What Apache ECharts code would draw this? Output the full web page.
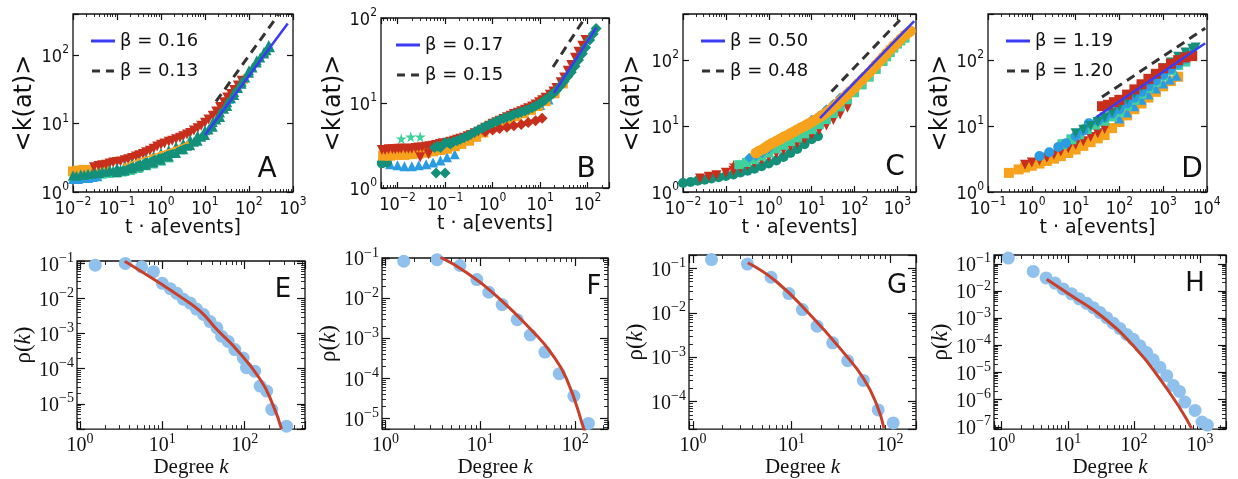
<!DOCTYPE html>
<html><head><meta charset="utf-8">
<script src="https://cdn.jsdelivr.net/npm/echarts@6/dist/echarts.min.js"></script>
<style>html,body{margin:0;padding:0;background:#fff}#c{width:1238px;height:479px}</style>
</head><body><div id="c"></div><script>
// ================= DATA =================
// Panel A
const A_range_x = [0.01, 1000], A_range_y = [1, 398];
const A_mint = [[0.01,1.7],[0.015,1.72],[0.02,1.75],[0.03,1.8],[0.045,1.85],[0.065,1.9],[0.09,1.95],[0.13,2.0],[0.2,2.1],[0.3,2.25],[0.45,2.45],[0.65,2.6],[1,2.85],[1.5,3.2]];
const A_blue = [[0.01,1.55],[0.013,1.55],[0.017,1.6],[0.022,1.6],[0.028,1.65],[0.036,1.7],[1,3.6],[25,17],[35,23]];
const A_orange_sq = [[0.01,2.0],[0.013,2.05],[0.017,2.1],[0.022,2.1]];
const A_orange_tri = [[0.03,2.15],[0.04,2.2],[0.05,2.25],[0.065,2.25],[28,20],[40,26],[55,34],[75,45]];
const A_orange_line = [[0.15,2.5],[0.3,2.95],[0.6,3.4],[1,3.8],[2,4.4],[4,5.3]];
const A_teal_lo = [[0.1,1.95],[0.15,2.05],[0.22,2.2],[0.32,2.35],[0.46,2.5],[0.68,2.7],[1,2.95],[1.5,3.3],[2.2,3.7],[3.2,4.2],[4.6,4.8],[6.8,5.6],[10,6.8],[15,9],[22,12.5],[32,18],[46,26],[68,38],[100,55],[150,78],[220,105],[300,130]];
const A_red = [[0.03,2.3],[0.038,2.4],[0.046,2.45],[0.056,2.5],[0.068,2.6],[0.082,2.7],[0.1,2.75],[0.12,2.8],[0.15,2.9],[0.18,3.0],[0.22,3.15],[0.27,3.3],[0.32,3.45],[0.39,3.6],[0.46,3.8],[0.56,4.0],[0.68,4.3],[0.82,4.6],[1,4.9],[1.2,5.1],[1.5,5.4],[1.8,5.6],[2.2,5.9],[2.7,6.2],[3.2,6.5],[3.9,6.9],[4.6,7.3],[5.6,7.9],[6.8,8.5],[8.2,9.3],[10,10.3],[12,11.5],[15,13],[18,15],[22,17.5],[27,20.5],[32,24],[39,27],[46,31],[56,36],[68,42]];
const A_teal_mid = [[0.012,1.72],[0.018,1.78],[0.027,1.84],[0.039,1.9],[0.056,1.98],[0.082,2.05],[0.12,2.12],[0.18,2.25],[0.27,2.42],[0.39,2.6],[0.56,2.8],[0.82,3.05],[1.2,3.35],[1.8,3.75],[2.7,4.2],[3.9,4.75],[5.6,5.4],[8.2,6.4],[12,8.2],[18,11.5],[27,16.5],[39,23.5],[56,33],[82,47],[120,66],[180,92],[250,118]];
const A_teal_hi = [[0.01,1.75],[0.015,1.8],[0.022,1.85],[0.032,1.9],[0.046,2.0],[0.068,2.1],[0.1,2.25],[0.15,2.4],[0.22,2.6],[0.32,2.8],[0.46,3.05],[0.68,3.35],[1,3.7],[1.5,4.1],[2.2,4.6],[3.2,5.1],[4.6,5.8],[6.8,6.7],[10,8.0],[15,10.5],[22,14.5],[32,20.5],[46,29],[68,41],[100,60],[150,84],[220,112],[280,140]];
const A_fit = [[10,6.8],[760,290]];
const A_ref = [[17.8,21],[480,400]];
const A_names = ['β = 0.16','β = 0.13'];

// Panel B
const B_range_x = [0.0045, 280], B_range_y = [1, 100];
const B_mint_star = [[0.012,3.8],[0.019,4.0],[0.03,4.0]];
const B_blue = [[0.0047,2.3],[0.007,1.9],[0.01,1.85],[0.014,1.8],[0.02,1.8],[0.028,1.85],[0.04,1.9],[0.056,2.0],[0.08,2.1],[0.11,2.3],[0.16,2.5],[10,9.5],[15,11]];
const B_teal_circle = [[0.0047,1.95],[0.006,2.0]];
const B_orange = [[0.005,2.4],[0.007,2.4],[0.01,2.45],[0.014,2.45],[0.02,2.5],[0.028,2.55],[0.04,2.6],[0.056,2.7],[0.08,2.8],[0.11,2.9],[0.16,3.1],[0.22,3.3],[0.32,3.6],[0.45,4.0],[0.64,4.5],[1,5.2],[1.5,5.8],[2.2,6.4],[3.2,7.0],[4.5,7.6],[6.4,8.3],[9,9.2],[13,10.5],[20,13],[30,17]];
const B_red_tri = [[0.0047,2.8],[0.0055,2.8],[0.0065,2.85],[0.0078,2.85],[0.009,2.85],[0.0105,2.9],[0.012,2.9],[0.0145,2.9],[0.017,2.9],[0.02,2.9],[0.024,2.95],[0.028,3.0],[0.033,3.0],[0.04,3.05],[0.047,3.1],[0.056,3.15],[0.065,3.2],[0.078,3.3],[0.09,3.35],[0.11,3.4],[0.13,3.5],[0.155,3.6],[0.18,3.7],[0.21,3.8],[0.25,3.9],[0.3,4.05],[0.35,4.2],[0.42,4.4],[0.5,4.6],[0.6,4.85],[0.7,5.1],[0.85,5.4],[1,5.7],[1.2,5.95],[1.4,6.2],[1.7,6.5],[2,6.8],[2.4,7.1],[2.8,7.4],[3.4,7.7],[4,8.0],[4.8,8.35],[5.6,8.7],[6.8,9.1],[8,9.6],[9.5,10.2],[11,10.8],[13,11.5],[16,12.5],[19,13.7],[22,15],[27,17.5],[32,20],[38,24],[45,28],[54,34],[64,40],[77,47],[90,55],[0.03,2.3],[0.045,2.5]];
const B_red_dia = [[0.7,4.6],[1,4.8],[1.4,5.0],[2,5.2],[2.8,5.4],[4,5.6],[5.6,5.9],[8,6.2],[11,6.6]];
const B_teal_dia = [[0.06,3.0],[0.07,3.1],[0.08,3.0],[0.1,3.4],[0.12,3.4],[0.13,3.3],[0.15,3.5],[0.18,3.6],[0.21,3.75],[0.25,3.9],[0.3,4.1],[0.35,4.3],[0.42,4.55],[0.5,4.8],[0.6,5.05],[0.7,5.3],[0.85,5.55],[1,5.8],[1.2,6.05],[1.4,6.3],[1.7,6.55],[2,6.8],[2.4,7.05],[2.8,7.3],[3.4,7.55],[4,7.8],[4.8,8.1],[5.6,8.4],[6.8,8.8],[8,9.2],[9.5,9.7],[11,10.2],[13,11],[16,12],[19,13],[22,14],[27,16],[32,18],[38,20.5],[45,23],[54,27],[64,32],[77,38],[90,45],[110,55],[130,65],[150,75],[0.065,1.5],[0.1,1.5]];
const B_fit = [[19.5,13.1],[152,77]];
const B_ref = [[18.6,26.5],[87,100]];
const B_names = ['β = 0.17','β = 0.15'];

// Panel C
const C_range_x = [0.01, 2700], C_range_y = [1, 500];
const C_teal = [[0.01,1.37],[0.015,1.42],[0.022,1.48],[0.032,1.53],[0.046,1.6],[0.068,1.67],[0.1,1.75],[0.15,1.85],[0.22,1.97],[0.32,2.1],[0.46,2.25],[0.68,2.45],[1,2.7],[1.5,3.0],[2.2,3.4],[3.2,3.9],[4.6,4.5],[6.8,5.3],[10,6.3],[14,7.0]];
const C_red = [[0.025,1.6],[0.04,1.7],[0.06,1.8],[0.1,1.95],[0.15,2.1],[0.22,2.3],[0.32,2.5],[0.46,2.75],[0.68,3.05],[1,3.4],[1.5,3.85],[2.2,4.3],[3.2,4.9],[4.6,5.5],[6.8,6.3],[10,7.3],[15,8.6],[22,10.2],[32,12.3],[46,15],[68,19]];
const C_red_star = [[0.15,2.6]];
const C_mint = [[0.2,2.6],[0.3,2.8],[0.46,3.1],[0.68,3.5],[1,3.9],[1.5,4.5],[2.2,5.1],[3.2,5.8],[4.6,6.6],[6.8,7.6],[10,8.8],[15,10.5],[22,12.5],[32,15.5],[46,19.5],[68,25],[100,32],[150,42],[220,55],[320,72],[460,95],[560,112],[680,130],[820,152],[1000,175],[1200,195],[1500,215]];
const C_blue = [[0.35,3.3],[0.5,3.5],[0.7,3.9],[1,4.5],[10,12.5],[15,14.5],[22,18],[32,21.5],[46,27],[68,33],[100,42],[150,55],[220,70],[320,90],[460,115],[680,150],[1000,190],[1500,250]];
const C_orange = [[0.5,3.9],[0.6,4.2],[0.75,4.5],[0.87,4.8],[1,5.1],[1.2,5.5],[1.5,5.9],[1.8,6.3],[2.2,6.8],[2.7,7.2],[3.2,7.7],[3.9,8.2],[4.6,8.8],[5.6,9.4],[6.8,10],[8.2,10.7],[10,11.5],[12,12.4],[15,13.5],[18,14.7],[22,16],[27,17.7],[32,19.5],[39,21.5],[46,24],[56,27],[68,30],[82,34],[100,38],[120,44],[150,50],[180,57],[220,65],[270,75],[320,85],[390,97],[460,110],[560,127],[680,145],[820,165],[1000,185],[1200,210],[1500,240],[1750,258],[2000,275]];
const C_fit = [[15.6,13.2],[2450,390]];
const C_ref = [[29,33.4],[1140,407]];
const C_names = ['β = 0.50','β = 0.48'];

// Panel D
const D_range_x = [0.1, 10000], D_range_y = [1, 500];
const D_orange = [[0.3,1.95],[0.5,2.2],[0.7,2.35],[1,2.5],[1.5,2.7],[2.2,2.95],[3.2,3.2],[4.6,3.5],[6.8,3.9],[10,4.4],[15,5.0],[22,5.7],[32,6.5],[46,7.3],[68,9.3],[100,11.5],[150,14.5],[220,18],[320,22],[460,27],[680,33],[1000,40],[1500,48],[2200,56]];
const D_red_tri = [[0.7,2.6],[1,2.8],[1.5,3.0],[2.2,3.3],[3.2,3.7],[4.6,4.1],[6.8,4.6],[10,5.2],[15,5.9],[22,6.8],[32,7.8],[46,9.0]];
const D_blue = [[1.5,3.5],[2.5,4.0],[4,4.8],[6,5.5],[10,7],[15,8.5],[20,11],[32,12],[46,13.5],[68,15.5],[100,18],[150,22],[220,27],[320,33],[460,40],[680,49],[1000,60],[1500,73],[2200,88],[3200,105],[4600,125]];
const D_blue_lo = [[100,13],[150,16],[220,20],[320,25],[460,30],[680,37],[1000,44],[1400,51],[2000,58]];
const D_mint = [[5,5.3],[8,6.3],[12,7.5],[18,9],[28,10.5],[45,12],[68,14],[100,16.5],[150,20.5],[220,25],[320,31],[460,38],[680,47],[1000,58],[1500,70],[2200,84],[3200,95]];
const D_teal = [[10,7.8],[15,8.8],[22,10],[32,11.5],[46,13.5],[68,16],[100,20],[150,25],[220,31],[320,39],[460,48],[680,60],[1000,75],[1500,92],[2200,112],[3200,130],[4600,148],[5500,155]];
const D_red_sq = [[40,20],[55,21],[75,23],[100,25],[150,30],[220,36],[320,43],[460,52],[680,62],[1000,75],[1500,88],[2200,100],[3200,110],[4600,115]];
const D_fit = [[30,13.7],[9100,180]];
const D_ref = [[40,27.5],[9100,304]];
const D_names = ['β = 1.19','β = 1.20'];

// Bottom panels: degree distributions
const E_range_x = [0.92, 540], E_range_y = [1.9e-6, 0.117];
const E_dots = [[1.53,0.089],[3.55,0.1],[5.6,0.08],[7.8,0.058],[10,0.027],[12.5,0.019],[15,0.014],[18,0.0095],[21.8,0.0074],[26,0.005],[31.6,0.0035],[38,0.0022],[46,0.00145],[52.5,0.00084],[63,0.0006],[76,0.00035],[96,0.0002],[105,0.000107],[132,8.5e-5],[154,3.2e-5],[185,2.3e-5],[213,6.9e-6],[322,2.3e-6]];
const E_fit = [[3.5,0.115],[9.4,0.027],[16.5,0.0113],[29,0.0043],[46,0.0013],[73,4.4e-4],[154,5e-5],[223,8.7e-6],[280,1.9e-6]];

const F_range_x = [0.92, 222], F_range_y = [5.4e-6, 0.1];
const F_dots = [[1.56,0.083],[3.5,0.091],[6.1,0.065],[9.2,0.029],[12.3,0.014],[17,0.0069],[24.5,0.0029],[33.7,0.0012],[48,0.00045],[68,1.3e-4],[97,3.6e-5],[138,7.5e-6]];
const F_fit = [[3.8,0.105],[7.2,0.043],[16.2,0.0093],[36.4,0.0014],[55,4.5e-4],[81,9.8e-5],[123,5.6e-6],[130,3e-6]];

const G_range_x = [0.91, 184], G_range_y = [2.4e-5, 0.2];
const G_dots = [[1.54,0.158],[3.57,0.125],[6.2,0.063],[9.4,0.027],[12.9,0.0118],[18.2,0.005],[26.2,0.0021],[37.2,8.3e-4],[53.7,3e-4],[76,6.5e-5],[108,3.3e-5]];
const G_fit = [[3.6,0.134],[7.05,0.05],[15.4,0.0091],[33.5,0.0013],[54,3.3e-4],[73.5,8.5e-5],[87,2.5e-5]];

const H_range_x = [0.765, 2470], H_range_y = [8.2e-8, 0.21];
const H_dots = [[1.26,0.162],[3.0,0.052],[4.7,0.03],[6.4,0.0195],[8.5,0.0118],[11.4,0.0078],[14.9,0.0051],[19.3,0.0035],[24.4,0.0024],[30.7,0.0016],[38.7,0.00104],[48.7,6.5e-4],[61.5,4.1e-4],[77.6,2.5e-4],[98,1.65e-4],[123,9.5e-5],[156,5.4e-5],[196,2.9e-5],[247,1.55e-5],[314,7.6e-6],[396,3.3e-6],[488,2e-6],[590,8.1e-7],[840,4e-7],[1070,1.5e-7],[1290,1.15e-7]];
const H_fit = [[4.8,0.027],[10.8,0.0072],[34.5,0.00105],[110,7e-5],[247,5.8e-6],[500,4.7e-7],[745,8.7e-8]];

const panelLetters = ['A','B','C','D','E','F','G','H'];
const topXName = 't · a[events]', topYName = '<k(at)>';

// ================= STYLE / BUILD =================
const COL = {blue:'#2b9be2', orange:'#f7a21c', red:'#c72f1c', teal:'#14907a', mint:'#3fd09c', fit:'#3b3cf2', ref:'#333333', dot:'#8fc1ec', curve:'#c8402b'};
const SANS = "'DejaVu Sans', sans-serif";
const TICKF = "'DejaVu Sans Condensed','DejaVu Sans',sans-serif";
const SERIF = "'Liberation Serif','DejaVu Serif',serif";
const STAR = 'path://M50,0 L61,35 L98,35 L68,57 L79,91 L50,70 L21,91 L32,57 L2,35 L39,35 Z';
const ICON_SOLID = 'path://M0,0H24V3H0Z';
const ICON_DASH = 'path://M0,0H8V3H0Z M14,0H22V3H14Z';

function expFmt(v){
  const e = Math.log10(v), r = Math.round(e);
  if (Math.abs(e - r) > 1e-6) return '';
  return '{b|10}{s|' + (r < 0 ? '\u2212' + (-r) : '' + r) + '}';
}

const grids = [], xAxes = [], yAxes = [], series = [], legends = [], graphics = [];

function addPanel(box, xr, yr, top, xName, xGap, yName, yGap){
  const gi = grids.length;
  grids.push({left:box[0], top:box[1], width:box[2], height:box[3], show:true, borderColor:'#111', borderWidth:1.3, backgroundColor:'rgba(0,0,0,0)'});
  const fam = top ? TICKF : SERIF;
  const bs = top ? 18 : 20, ss = top ? 12 : 14;
  const rich = {b:{fontFamily:fam, fontSize:bs, color:'#111', verticalAlign:'bottom', lineHeight:bs+4},
                s:{fontFamily:fam, fontSize:ss, color:'#111', verticalAlign:'top'}};
  const tick = {show:true, inside:true, length: top?6:8, lineStyle:{color:'#111', width:1.2}};
  const minorX = {show:true, splitNumber:9, length: top?3:4, lineStyle:{color:'#111', width:0.9}};
  const minorY = {show:!top, splitNumber:9, length: 4, lineStyle:{color:'#111', width:0.9}};
  const nameStyleX = top ? {fontFamily:SANS, fontSize:19, color:'#111'} :
        {fontFamily:SERIF, fontSize:21, color:'#111', rich:{n:{fontFamily:SERIF, fontSize:21, color:'#111'}, i:{fontFamily:SERIF, fontSize:21, fontStyle:'italic', color:'#111'}}};
  const nameStyleY = top ? {fontFamily:SANS, fontSize:24, color:'#111'} :
        {fontFamily:SERIF, fontSize:23, color:'#111', rich:{n:{fontFamily:SERIF, fontSize:23, color:'#111'}, i:{fontFamily:SERIF, fontSize:23, fontStyle:'italic', color:'#111'}}};
  const base = (pos, r, lab, minor) => ({type:'log', logBase:10, gridIndex:gi, position:pos, min:r[0], max:r[1],
      axisLine:{show:false}, axisTick:tick, minorTick:minor, splitLine:{show:false}, minorSplitLine:{show:false},
      axisLabel:{show:lab, formatter:expFmt, rich:rich, fontSize:bs, fontFamily:fam, color:'#111', margin: top?4:3, hideOverlap:false, showMinLabel:true, showMaxLabel:true}});
  const xi = xAxes.length, yi = yAxes.length;
  xAxes.push(Object.assign(base('bottom', xr, true, minorX), {name:xName, nameLocation:'middle', nameGap:xGap, nameTextStyle:nameStyleX}));
  xAxes.push(base('top', xr, false, minorX));
  yAxes.push(Object.assign(base('left', yr, true, minorY), {name:yName, nameLocation:'middle', nameGap:yGap, nameTextStyle:nameStyleY}));
  yAxes.push(base('right', yr, false, minorY));
  return {xi, yi};
}

function scat(ax, data, color, symbol, size, rot){
  series.push({type:'scatter', xAxisIndex:ax.xi, yAxisIndex:ax.yi, data:data, symbol:symbol, symbolSize:size||10,
    symbolRotate:rot||0, itemStyle:{color:color, opacity:1}, silent:true});
}
function line(ax, data, color, width, dash, name, smooth){
  series.push({type:'line', name:name, xAxisIndex:ax.xi, yAxisIndex:ax.yi, data:data, symbol:'none', smooth:!!smooth,
    clip:true, lineStyle:{color:color, width:width, type:dash?[9,6]:'solid'}, itemStyle:{color:color}, silent:true, z:5});
}
function legendAt(left, top, names){
  legends.push({left:left, top:top, orient:'vertical', itemWidth:24, itemHeight:3, itemGap:12, selectedMode:false,
    data:[{name:names[0], icon:ICON_SOLID}, {name:names[1], icon:ICON_DASH}],
    textStyle:{fontFamily:SANS, fontSize:18, color:'#111'}, padding:0});
}
function letter(ch, x, y, size){
  graphics.push({type:'text', x:x, y:y, style:{text:ch, fontFamily:SANS, fontSize:size, fill:'#111', textAlign:'center', textVerticalAlign:'middle'}});
}

// --- Top row ---
let ax;
ax = addPanel([73,14,220,178], A_range_x, A_range_y, true, topXName, 22, topYName, 36);
scat(ax, A_mint, COL.mint, 'triangle', 10);
scat(ax, A_blue, COL.blue, 'triangle', 10);
scat(ax, A_orange_sq, COL.orange, 'rect', 10);
scat(ax, A_orange_tri, COL.orange, 'triangle', 10);
scat(ax, A_teal_lo, COL.teal, 'triangle', 10);
scat(ax, A_red, COL.red, 'triangle', 10, 180);
scat(ax, A_teal_mid, COL.teal, 'triangle', 10);
scat(ax, A_teal_hi, COL.teal, 'triangle', 10);
series.push({type:'line', xAxisIndex:ax.xi, yAxisIndex:ax.yi, data:A_orange_line, symbol:'circle', symbolSize:3, lineStyle:{color:COL.orange, width:1.5}, itemStyle:{color:COL.orange}, silent:true});
line(ax, A_fit, COL.fit, 2.5, false, A_names[0]);
line(ax, A_ref, COL.ref, 3, true, A_names[1]);
legendAt(91, 32, A_names);
letter('A', 267, 170, 28);

ax = addPanel([381,18,228,170], B_range_x, B_range_y, true, topXName, 26, topYName, 34);
scat(ax, B_mint_star, COL.mint, STAR, 11);
scat(ax, B_blue, COL.blue, 'triangle', 10);
scat(ax, B_teal_circle, COL.teal, 'circle', 10);
scat(ax, B_orange, COL.orange, 'rect', 10);
scat(ax, B_red_tri, COL.red, 'triangle', 10, 180);
scat(ax, B_red_dia, COL.red, 'diamond', 11);
scat(ax, B_teal_dia, COL.teal, 'diamond', 11);
line(ax, B_fit, COL.fit, 2.5, false, B_names[0]);
line(ax, B_ref, COL.ref, 3, true, B_names[1]);
legendAt(396, 36, B_names);
letter('B', 586, 170, 28);

ax = addPanel([683,14,233,178], C_range_x, C_range_y, true, topXName, 22, topYName, 38);
scat(ax, C_teal, COL.teal, 'circle', 10);
scat(ax, C_red, COL.red, 'triangle', 10, 180);
scat(ax, C_red_star, COL.red, STAR, 10);
scat(ax, C_mint, COL.mint, 'rect', 9);
scat(ax, C_blue, COL.blue, 'diamond', 10);
scat(ax, C_orange, COL.orange, 'circle', 11);
line(ax, C_fit, COL.fit, 2.5, false, C_names[0]);
line(ax, C_ref, COL.ref, 3, true, C_names[1]);
legendAt(701, 32, C_names);
letter('C', 895, 168, 28);

ax = addPanel([988,14,219,178], D_range_x, D_range_y, true, topXName, 22, topYName, 33);
scat(ax, D_orange, COL.orange, 'rect', 10);
scat(ax, D_blue_lo, COL.blue, 'triangle', 10);
scat(ax, D_red_tri, COL.red, 'triangle', 10, 180);
scat(ax, D_mint, COL.mint, 'rect', 10);
scat(ax, D_blue, COL.blue, 'circle', 10);
scat(ax, D_teal, COL.teal, 'triangle', 10, 180);
scat(ax, D_red_sq, COL.red, 'rect', 10);
line(ax, D_fit, COL.fit, 2.5, false, D_names[0]);
line(ax, D_ref, COL.ref, 3, true, D_names[1]);
legendAt(1006, 32, D_names);
letter('D', 1192, 170, 28);

// --- Bottom row ---
const degName = '{n|Degree }{i|k}', rhoName = '{n|ρ(}{i|k}{n|)}';
const bottom = [
  {box:[77,261,228,170], xr:E_range_x, yr:E_range_y, dots:E_dots, fit:E_fit, yGap:40, L:[283,290]},
  {box:[382,258,226,173], xr:F_range_x, yr:F_range_y, dots:F_dots, fit:F_fit, yGap:37, L:[594,287]},
  {box:[689,255,227,176], xr:G_range_x, yr:G_range_y, dots:G_dots, fit:G_fit, yGap:39, L:[897,286]},
  {box:[994,255,232,176], xr:H_range_x, yr:H_range_y, dots:H_dots, fit:H_fit, yGap:39, L:[1195,284]},
];
bottom.forEach((p, i) => {
  const a = addPanel(p.box, p.xr, p.yr, false, degName, 16, rhoName, p.yGap);
  scat(a, p.dots, COL.dot, 'circle', 13);
  line(a, p.fit, COL.curve, 3, false, undefined, true);
  letter(panelLetters[4+i], p.L[0], p.L[1], 26);
});

const chart = echarts.init(document.getElementById('c'), null, {renderer:'canvas'});
chart.setOption({
  animation:false, backgroundColor:'#fff',
  grid:grids, xAxis:xAxes, yAxis:yAxes, series:series, legend:legends, graphic:graphics
});
</script></body></html>
